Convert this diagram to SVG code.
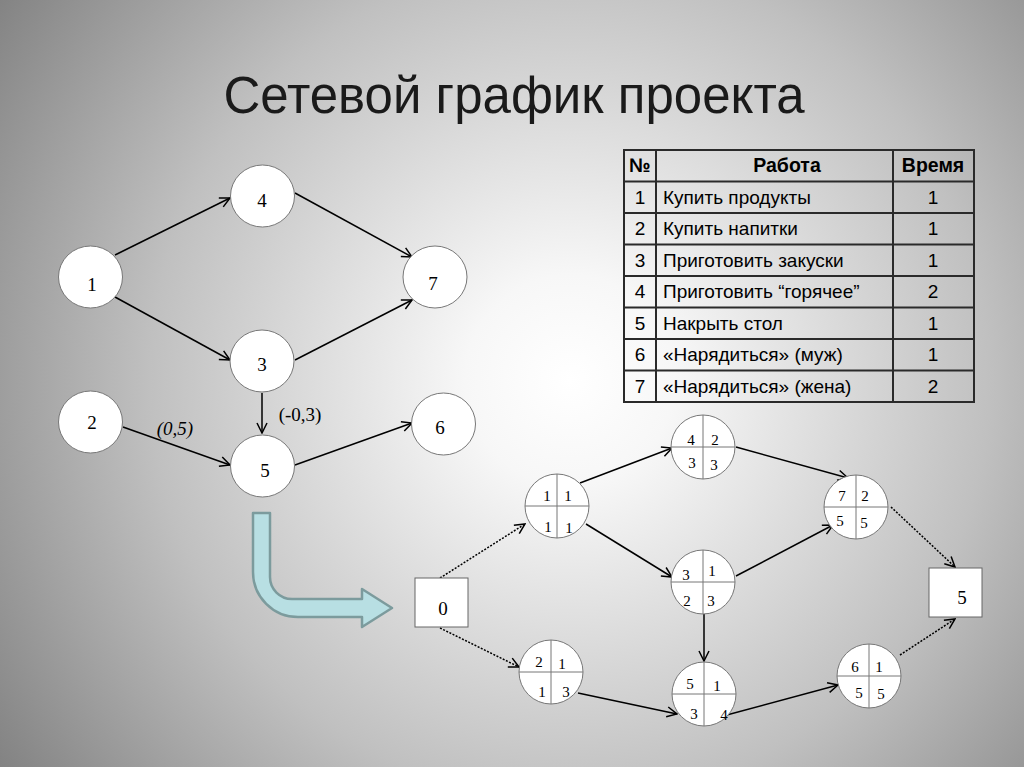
<svg xmlns="http://www.w3.org/2000/svg" width="1024" height="767" viewBox="0 0 1024 767">
<defs>
<radialGradient id="bg" gradientUnits="userSpaceOnUse" cx="570" cy="380" r="700">
<stop offset="0" stop-color="#ffffff"/>
<stop offset="0.15" stop-color="#f7f7f7"/>
<stop offset="0.6" stop-color="#c0c0c0"/>
<stop offset="1" stop-color="#808080"/>
</radialGradient>
<marker id="ah" viewBox="0 0 12 12" refX="11" refY="6" markerWidth="12" markerHeight="12" markerUnits="userSpaceOnUse" orient="auto">
<path d="M1,1 L11,6 L1,11" fill="none" stroke="#000" stroke-width="1.5"/>
</marker>
<style>
.title{font-family:"Liberation Sans",Arial,sans-serif;font-size:51px;fill:#1a1a1a;text-anchor:middle}
.node{fill:#fff;stroke:#777;stroke-width:1}
.q{stroke:#777;stroke-width:1}
.lbl{font-family:"Liberation Serif","Times New Roman",serif;font-size:19px;fill:#000;text-anchor:middle}
.ql{font-family:"Liberation Serif","Times New Roman",serif;font-size:15px;fill:#000;text-anchor:middle}
.edge{stroke:#000;stroke-width:1.5;fill:none;marker-end:url(#ah)}
.dot{stroke:#000;stroke-width:1.5;fill:none;stroke-dasharray:2 1.5;marker-end:url(#ah)}
.tb{fill:none;stroke:#2a2a2a;stroke-width:2}
.tt{font-family:"Liberation Sans",Arial,sans-serif;font-size:19px;fill:#000}
.th{font-family:"Liberation Sans",Arial,sans-serif;font-size:19.5px;font-weight:bold;fill:#000;text-anchor:middle}
.c{text-anchor:middle}
.box{fill:#fff;stroke:#666;stroke-width:1}
</style>
</defs>
<rect x="0" y="0" width="1024" height="767" fill="url(#bg)"/>
<text class="title" x="514" y="113">Сетевой график проекта</text>

<g id="connectors">
<line class="edge" x1="115" y1="255" x2="230" y2="198"/>
<line class="edge" x1="115" y1="297" x2="230" y2="360"/>
<line class="edge" x1="295" y1="193" x2="412" y2="257"/>
<line class="edge" x1="295" y1="360" x2="412" y2="300"/>
<line class="edge" x1="262" y1="393" x2="262" y2="433"/>
<line class="edge" x1="123" y1="427" x2="230" y2="465"/>
<line class="edge" x1="295" y1="465" x2="412" y2="423"/>
<text class="lbl" x="175" y="435" font-style="italic">(0,5)</text>
<text class="lbl" x="300" y="421">(-0,3)</text>

<line class="edge" x1="580" y1="483" x2="672" y2="448"/>
<line class="edge" x1="586" y1="524" x2="672" y2="577"/>
<line class="edge" x1="736" y1="447" x2="848" y2="478"/>
<line class="edge" x1="736" y1="576" x2="833" y2="525"/>
<line class="edge" x1="704" y1="614" x2="704" y2="661"/>
<line class="edge" x1="578" y1="693" x2="677" y2="714"/>
<line class="edge" x1="723" y1="716" x2="838" y2="685"/>
<line class="dot" x1="440" y1="578" x2="525" y2="524"/>
<line class="dot" x1="440" y1="628" x2="519" y2="667"/>
<line class="dot" x1="891" y1="507" x2="955" y2="567"/>
<line class="dot" x1="900" y1="655" x2="955" y2="619"/>
</g>

<g id="n1"><ellipse class="node" cx="90.5" cy="277" rx="32" ry="31"/><text class="lbl" x="92" y="291">1</text></g>
<g id="n4"><ellipse class="node" cx="262.5" cy="196" rx="32" ry="31"/><text class="lbl" x="262" y="207">4</text></g>
<g id="n7"><ellipse class="node" cx="435" cy="277" rx="32" ry="31"/><text class="lbl" x="433" y="290">7</text></g>
<g id="n3"><ellipse class="node" cx="262" cy="361" rx="32" ry="31"/><text class="lbl" x="262" y="371">3</text></g>
<g id="n2"><ellipse class="node" cx="90.5" cy="422" rx="32" ry="31"/><text class="lbl" x="92" y="429">2</text></g>
<g id="n5"><ellipse class="node" cx="262.5" cy="466" rx="32" ry="31"/><text class="lbl" x="265" y="477">5</text></g>
<g id="n6"><ellipse class="node" cx="443.5" cy="424" rx="32" ry="31"/><text class="lbl" x="440" y="434">6</text></g>

<g id="bigarrow">
<path d="M253,513 L270,513 L270,577 A22,22 0 0 0 292,599 L362,599 L362,589 L392,608 L362,627 L362,617 L298,617 A45,45 0 0 1 253,572 Z" fill="#b8dfe3" stroke="#7c9b9d" stroke-width="2.5" stroke-linejoin="round"/>
</g>

<g id="table">
<rect class="tb" x="624" y="150" width="350" height="252"/>
<line class="tb" x1="656" y1="150" x2="656" y2="402"/>
<line class="tb" x1="893" y1="150" x2="893" y2="402"/>
<line class="tb" x1="624" y1="181.5" x2="974" y2="181.5"/>
<line class="tb" x1="624" y1="213" x2="974" y2="213"/>
<line class="tb" x1="624" y1="244.5" x2="974" y2="244.5"/>
<line class="tb" x1="624" y1="276" x2="974" y2="276"/>
<line class="tb" x1="624" y1="307.5" x2="974" y2="307.5"/>
<line class="tb" x1="624" y1="339" x2="974" y2="339"/>
<line class="tb" x1="624" y1="370.5" x2="974" y2="370.5"/>
<text class="th" x="640" y="172">№</text>
<text class="th" x="787" y="172">Работа</text>
<text class="th" x="933" y="172">Время</text>
<text class="tt c" x="640" y="204">1</text><text class="tt" x="663" y="204">Купить продукты</text><text class="tt c" x="933" y="204">1</text>
<text class="tt c" x="640" y="235">2</text><text class="tt" x="663" y="235">Купить напитки</text><text class="tt c" x="933" y="235">1</text>
<text class="tt c" x="640" y="267">3</text><text class="tt" x="663" y="267">Приготовить закуски</text><text class="tt c" x="933" y="267">1</text>
<text class="tt c" x="640" y="298">4</text><text class="tt" x="663" y="298">Приготовить “горячее”</text><text class="tt c" x="933" y="298">2</text>
<text class="tt c" x="640" y="330">5</text><text class="tt" x="663" y="330">Накрыть стол</text><text class="tt c" x="933" y="330">1</text>
<text class="tt c" x="640" y="361">6</text><text class="tt" x="663" y="361">«Нарядиться» (муж)</text><text class="tt c" x="933" y="361">1</text>
<text class="tt c" x="640" y="393">7</text><text class="tt" x="663" y="393">«Нарядиться» (жена)</text><text class="tt c" x="933" y="393">2</text>
</g>

<g id="start"><rect class="box" x="415" y="578" width="53" height="49"/><text class="lbl" x="443" y="615">0</text></g>
<g id="finish"><rect class="box" x="929" y="568" width="53" height="49"/><text class="lbl" x="962" y="604">5</text></g>

<g id="nA"><circle class="node" cx="557" cy="506" r="32"/><line class="q" x1="525" y1="506" x2="589" y2="506"/><line class="q" x1="557" y1="474" x2="557" y2="538"/>
<text class="ql" x="547" y="501">1</text><text class="ql" x="568" y="501">1</text><text class="ql" x="548" y="532">1</text><text class="ql" x="569" y="533">1</text></g>
<g id="nB"><circle class="node" cx="703" cy="447" r="32"/><line class="q" x1="671" y1="447" x2="735" y2="447"/><line class="q" x1="703" y1="415" x2="703" y2="479"/>
<text class="ql" x="691" y="445">4</text><text class="ql" x="715" y="445">2</text><text class="ql" x="692" y="468">3</text><text class="ql" x="714" y="470">3</text></g>
<g id="nC"><circle class="node" cx="703" cy="582" r="32"/><line class="q" x1="671" y1="582" x2="735" y2="582"/><line class="q" x1="703" y1="550" x2="703" y2="614"/>
<text class="ql" x="686" y="580">3</text><text class="ql" x="712" y="576">1</text><text class="ql" x="687" y="606">2</text><text class="ql" x="711" y="606">3</text></g>
<g id="nD"><circle class="node" cx="551" cy="672" r="32"/><line class="q" x1="519" y1="672" x2="583" y2="672"/><line class="q" x1="551" y1="640" x2="551" y2="704"/>
<text class="ql" x="539" y="667">2</text><text class="ql" x="562" y="669">1</text><text class="ql" x="542" y="697">1</text><text class="ql" x="566" y="697">3</text></g>
<g id="nE"><circle class="node" cx="704" cy="694" r="32"/><line class="q" x1="672" y1="694" x2="736" y2="694"/><line class="q" x1="704" y1="662" x2="704" y2="726"/>
<text class="ql" x="690" y="689">5</text><text class="ql" x="717" y="691">1</text><text class="ql" x="694" y="719">3</text><text class="ql" x="724" y="720">4</text></g>
<g id="nF"><circle class="node" cx="856" cy="507" r="32"/><line class="q" x1="824" y1="507" x2="888" y2="507"/><line class="q" x1="856" y1="475" x2="856" y2="539"/>
<text class="ql" x="842" y="501">7</text><text class="ql" x="865" y="501">2</text><text class="ql" x="840" y="526">5</text><text class="ql" x="864" y="528">5</text></g>
<g id="nG"><circle class="node" cx="869" cy="676" r="32"/><line class="q" x1="837" y1="676" x2="901" y2="676"/><line class="q" x1="869" y1="644" x2="869" y2="708"/>
<text class="ql" x="855" y="672">6</text><text class="ql" x="879" y="672">1</text><text class="ql" x="859" y="698">5</text><text class="ql" x="881" y="699">5</text></g>
</svg>
